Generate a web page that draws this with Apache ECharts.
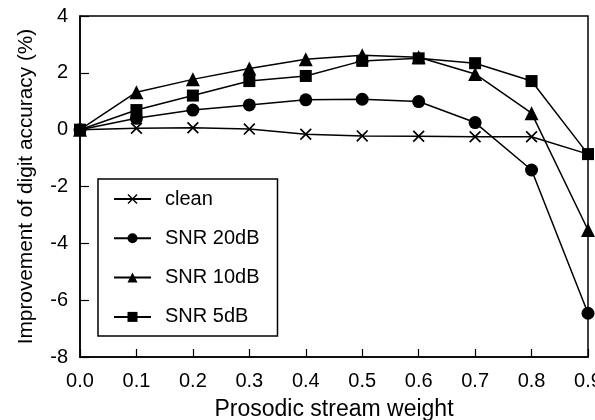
<!DOCTYPE html>
<html>
<head>
<meta charset="utf-8">
<script src="https://cdn.jsdelivr.net/npm/echarts@6/dist/echarts.min.js"></script>
<style>html,body{margin:0;padding:0;background:#fff;}#c{width:595px;height:420px;}</style>
</head>
<body>
<div id="c"></div>
<script>
const weights = [0.0, 0.1, 0.2, 0.3, 0.4, 0.5, 0.6, 0.7, 0.8, 0.9];
const clean = [0, 0.05, 0.07, 0.02, -0.16, -0.22, -0.23, -0.25, -0.25, -0.86];
const snr20 = [0, 0.40, 0.69, 0.87, 1.05, 1.07, 0.99, 0.25, -1.42, -6.46];
const snr10 = [0, 1.32, 1.77, 2.15, 2.48, 2.62, 2.55, 1.96, 0.58, -3.53];
const snr5 = [0, 0.69, 1.20, 1.71, 1.89, 2.42, 2.51, 2.34, 1.71, -0.86];
const seriesNames = ['clean', 'SNR 20dB', 'SNR 10dB', 'SNR 5dB'];
const xTitle = 'Prosodic stream weight';
const yTitle = 'Improvement of digit accuracy (%)';

const xSym = 'path://M0,1L1,0L5,4L9,0L10,1L6,5L10,9L9,10L5,6L1,10L0,9L4,5Z';
const font = 'Liberation Sans, Arial, sans-serif';
function pairs(vals){ return weights.map((w,i)=>[w, vals[i]]); }
function mk(name, vals, symbol, size){
  return {
    name, type:'line', data: pairs(vals), symbol, symbolSize: size,
    lineStyle:{color:'#000', width:1.5}, itemStyle:{color:'#000'},
    emphasis:{disabled:true}, z: 3
  };
}
const chart = echarts.init(document.getElementById('c'), null, {renderer:'canvas'});
chart.setOption({
  animation:false,
  backgroundColor:'#fff',
  textStyle:{fontFamily:font, color:'#000'},
  grid:{left:80, right:7, top:16, bottom:63, containLabel:false, outerBoundsMode:'none',
        show:true, borderColor:'#000', borderWidth:1.5, backgroundColor:'transparent'},
  legend:{
    orient:'vertical', left:98, top:179,
    data: seriesNames,
    itemWidth:37, itemHeight:12.5, itemGap:19.3,
    padding:[10,18,9,15],
    borderColor:'#000', borderWidth:1.5, backgroundColor:'#fff',
    textStyle:{fontSize:20, color:'#000', fontFamily:font, lineHeight:20, padding:[0,0,0,9]},
    inactiveColor:'#000', selectedMode:false
  },
  xAxis:{
    type:'value', min:0, max:0.9, interval:0.1,
    name:xTitle, nameLocation:'middle', nameGap:41,
    nameTextStyle:{fontSize:23, color:'#000', fontFamily:font},
    axisLine:{show:true, onZero:false, lineStyle:{color:'#000', width:1.5}},
    axisTick:{show:true, inside:true, length:8, lineStyle:{color:'#000', width:1.2}},
    axisLabel:{fontSize:20, color:'#000', fontFamily:font, margin:14, formatter:v=>v.toFixed(1), showMaxLabel:true, hideOverlap:false},
    splitLine:{show:false}
  },
  yAxis:{
    type:'value', min:-8, max:4, interval:2,
    name:yTitle, nameLocation:'middle', nameGap:43,
    nameTextStyle:{fontSize:20.8, color:'#000', fontFamily:font},
    axisLine:{show:true, onZero:false, lineStyle:{color:'#000', width:1.5}},
    axisTick:{show:true, inside:true, length:9, lineStyle:{color:'#000', width:1.2}},
    axisLabel:{fontSize:20, color:'#000', fontFamily:font, margin:12},
    splitLine:{show:false}
  },
  series:[
    mk(seriesNames[0], clean, xSym, 12),
    mk(seriesNames[1], snr20, 'circle', 13),
    mk(seriesNames[2], snr10, 'triangle', 14),
    mk(seriesNames[3], snr5, 'rect', 12)
  ]
});
</script>
</body>
</html>
